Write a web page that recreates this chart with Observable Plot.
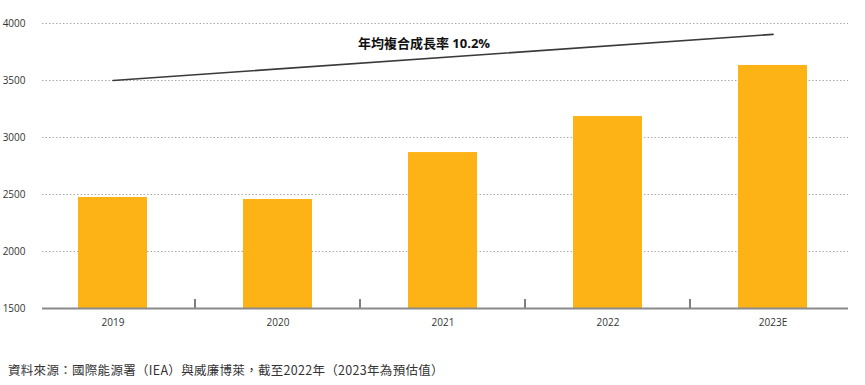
<!DOCTYPE html>
<html>
<head>
<meta charset="utf-8">
<script src="https://cdn.jsdelivr.net/npm/d3@7"></script>
<script src="https://cdn.jsdelivr.net/npm/@observablehq/plot@0.6"></script>
<style>
  body { margin: 0; background: #fff; font-family: "Open Sans", "Noto Sans CJK TC", sans-serif; }
  #chart { position: relative; width: 865px; height: 385px; }
  #source { position: absolute; left: 8px; top: 360px; font-size: 12.5px; color: #333; font-family: "Noto Sans CJK TC", sans-serif; letter-spacing: 0.3px; }
</style>
</head>
<body>
<div id="chart"></div>
<script>
const years = ["2019", "2020", "2021", "2022", "2023E"];
const values = [2474, 2456, 2868, 3184, 3632];
const trendYears = ["2019", "2023E"];
const trendValues = [3500, 3905];
const yTicks = [1500, 2000, 2500, 3000, 3500, 4000];
const trendLabel = "年均複合成長率 10.2%";
const sourceText = "資料來源：國際能源署（IEA）與威廉博萊，截至2022年（2023年為預估值）";

const bars = years.map((y, i) => ({year: y, value: values[i]}));
const trend = trendYears.map((y, i) => ({year: y, value: trendValues[i]}));
const boundaries = years.slice(1);

const plot = Plot.plot({
  width: 865,
  height: 340,
  marginTop: 23,
  marginBottom: 32,
  marginLeft: 28,
  marginRight: 8,
  style: {fontFamily: "'Open Sans', 'Noto Sans CJK TC', sans-serif", fontSize: "10px", color: "#333"},
  x: {domain: years, paddingInner: 0.58, paddingOuter: 0.29, label: null},
  y: {domain: [1500, 4000], label: null},
  marks: [
    Plot.ruleY(yTicks.filter(d => d > 1500), {stroke: "#aaa", strokeDasharray: "1.5,2", strokeWidth: 1, insetLeft: 14, insetRight: 9}),
    Plot.barY(bars, {x: "year", y1: 1500, y2: "value", fill: "#FDB316"}),
    Plot.ruleX(boundaries, {x: d => d, dx: -83, y1: 1500, y2: 1580, stroke: "#555", strokeWidth: 1.5}),
    Plot.ruleY([1500], {stroke: "#8a8a8a", strokeWidth: 2, insetLeft: 14, insetRight: 9}),
    Plot.lineY(trend, {x: "year", y: "value", stroke: "#3a3a3a", strokeWidth: 1.6}),
    Plot.text([trendLabel], {x: () => "2021", y: () => 3825, dx: -19, text: d => d, fontWeight: "bold", fontSize: 13, fill: "#111"}),
    Plot.axisY(yTicks, {tickSize: 0, dx: 6, fontSize: 10, tickFormat: d3.format("d")}),
    Plot.axisX({tickSize: 0, tickPadding: 10, fontSize: 10})
  ]
});
document.getElementById("chart").appendChild(plot);
const src = document.createElement("div");
src.id = "source";
src.textContent = sourceText;
document.getElementById("chart").appendChild(src);
</script>
</body>
</html>
